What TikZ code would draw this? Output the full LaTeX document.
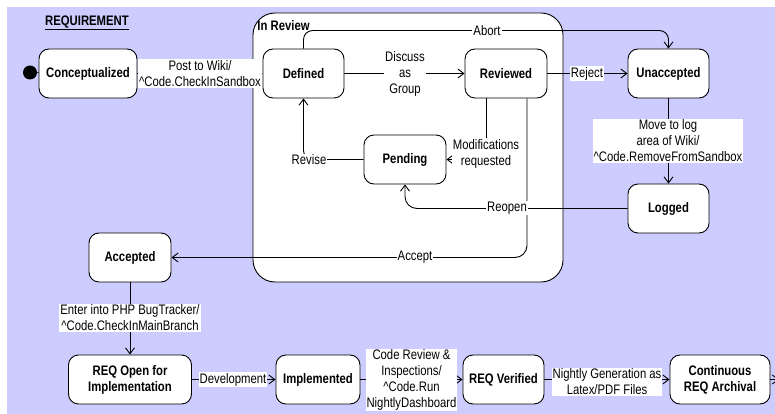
\documentclass[tikz,border=0pt]{standalone}
\usepackage{fontspec}
\setmainfont{Liberation Sans}[FakeStretch=0.82]
\usetikzlibrary{arrows.meta,calc}
\definecolor{lav}{RGB}{204,204,255}
\begin{document}
\begin{tikzpicture}[x=1pt,y=-1pt,
  line width=0.9pt,
  font=\fontsize{13.8}{16}\selectfont,
  state/.style={draw, fill=white, rounded corners=10pt, minimum height=49pt,
    align=center, inner sep=2pt, font=\fontsize{13.8}{16}\selectfont\bfseries},
  lbl/.style={fill=white, inner sep=1pt, align=center},
  tr/.style={-{Straight Barb[length=6pt,width=9pt]}}]

\useasboundingbox (0,0) rectangle (775,414);
\fill[lav] (7,7) rectangle (775,414);

% title of the state machine
\node[font=\fontsize{13.8}{16}\selectfont\bfseries, inner sep=0pt] (title) at (87,23) {\underline{REQUIREMENT}};

% composite state
\node[draw, fill=white, rounded corners=22pt, minimum width=310pt, minimum height=269pt, inner sep=0pt] (inreview) at (408,147.5) {};
\node[anchor=west, inner sep=0pt, font=\fontsize{13.8}{16}\selectfont\bfseries] (inreviewlbl) at (257,25.5) {In Review};

% states
\node[circle, fill=black, minimum size=14pt, inner sep=0pt] (init) at (30,72.5) {};
\node[state, minimum width=98pt] (concept) at (88,73.5) {Conceptualized};
\node[state, minimum width=81pt] (defined) at (303.5,73.5) {Defined};
\node[state, minimum width=82pt] (reviewed) at (506,73.5) {Reviewed};
\node[state, minimum width=81pt] (unaccepted) at (668.5,73.5) {Unaccepted};
\node[state, minimum width=82pt] (pending) at (405,159.5) {Pending};
\node[state, minimum width=81pt] (logged) at (668.5,208.5) {Logged};
\node[state, minimum width=82pt] (accepted) at (130,257.5) {Accepted};
\node[state, minimum width=123pt] (reqopen) at (130,379.5) {REQ Open for\\Implementation};
\node[state, minimum width=84pt] (implemented) at (318,379.5) {Implemented};
\node[state, minimum width=81pt] (verified) at (503.5,379.5) {REQ Verified};
\node[state, minimum width=100pt] (archival) at (720,379.5) {Continuous\\REQ Archival};
\coordinate (exit) at (779,379.5);

% transitions
\draw (init) -- (concept);
\draw[tr] (concept) -- (defined);
\draw[tr, rounded corners=9pt] (defined.north) -- ++(0,-18) -| (unaccepted.north);
\draw[tr] (defined) -- (reviewed);
\draw[tr] (reviewed) -- (unaccepted);
\draw[tr] (unaccepted) -- (logged);
\draw[tr] ($(reviewed.south)+(-20,0)$) |- (pending.east);
\draw[tr, rounded corners=9pt] (pending.west) -| (defined.south);
\draw[tr, rounded corners=12pt] (logged.west) -| (pending.south);
\draw[tr, rounded corners=12pt] ($(reviewed.south)+(21,0)$) |- (accepted.east);
\draw[tr] (accepted) -- (reqopen);
\draw[tr] (reqopen) -- (implemented);
\draw[tr] (implemented) -- (verified);
\draw[tr] (verified) -- (archival);
\draw[tr] (archival) -- (exit);

% transition labels
\node[lbl] (postlbl) at (200,73.5) {Post to Wiki/\\\textasciicircum Code.CheckInSandbox};
\node[lbl] (abortlbl) at (487,31) {Abort};
\node[lbl] (discusslbl) at (405,73.5) {Discuss\\as\\Group};
\node[lbl] (rejectlbl) at (587,73.5) {Reject};
\node[lbl] (movelbl) at (668,141) {Move to log\\area of Wiki/\\\textasciicircum Code.RemoveFromSandbox};
\node[lbl] (modlbl) at (486,153.5) {Modifications\\requested};
\node[lbl] (reviselbl) at (309,160) {Revise};
\node[lbl] (reopenlbl) at (507,208) {Reopen};
\node[lbl] (acceptlbl) at (415,257) {Accept};
\node[lbl] (enterlbl) at (130,318) {Enter into PHP BugTracker/\\\textasciicircum Code.CheckInMainBranch};
\node[lbl] (devlbl) at (233,379.5) {Development};
\node[lbl] (codelbl) at (411.5,380) {Code Review \&\\Inspections/\\\textasciicircum Code.Run\\NightlyDashboard};
\node[lbl] (nightlylbl) at (607,382) {Nightly Generation as\\Latex/PDF Files};
\end{tikzpicture}
\end{document}
